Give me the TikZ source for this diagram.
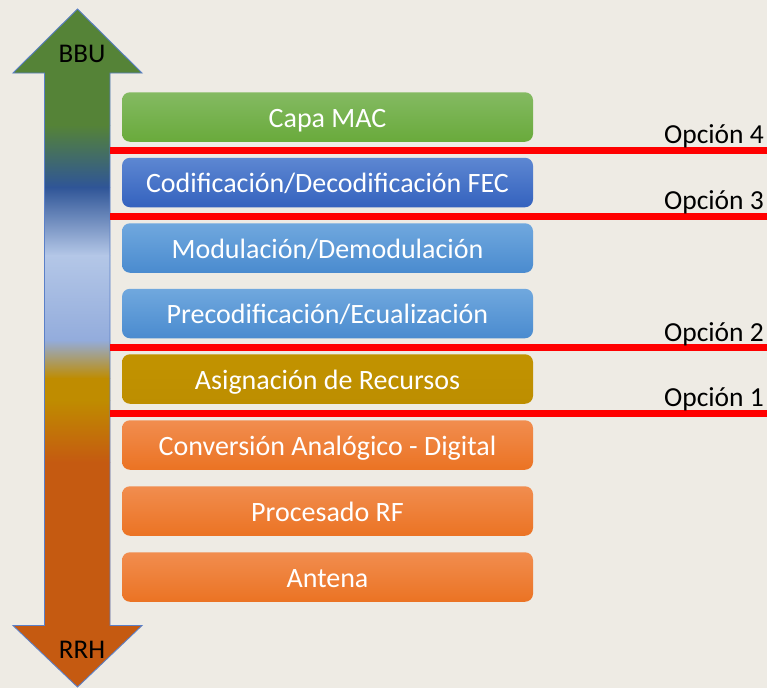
\documentclass[tikz,border=0pt]{standalone}
\usepackage{fontspec}
\setmainfont{Carlito}
\definecolor{bg}{HTML}{EEEBE4}
\definecolor{agreen}{HTML}{558337}
\definecolor{ablue}{HTML}{2F5597}
\definecolor{alight}{HTML}{B4C7E7}
\definecolor{alav}{HTML}{93ACDC}
\definecolor{agold}{HTML}{BF8C00}
\definecolor{aorange}{HTML}{C55A11}
\definecolor{edge}{HTML}{5B80C8}
\definecolor{greenT}{HTML}{84BA62}
\definecolor{greenB}{HTML}{69AA3B}
\definecolor{blueT}{HTML}{5D87D2}
\definecolor{blueB}{HTML}{3462BE}
\definecolor{skyT}{HTML}{70A8DE}
\definecolor{skyB}{HTML}{4A8BCF}
\definecolor{goldT}{HTML}{C29300}
\definecolor{goldB}{HTML}{BD8E00}
\definecolor{orT}{HTML}{F18D4F}
\definecolor{orB}{HTML}{EB7323}
\begin{document}
\begin{tikzpicture}[x=1pt,y=-1pt,
  layer/.style={rounded corners=8pt, minimum width=411pt, minimum height=49.5pt,
    inner sep=0pt, text height=20pt, text depth=0pt, text=white,
    font=\fontsize{28}{34}\selectfont},
  cut/.style={draw=red, line width=6.5pt},
  optlabel/.style={anchor=base east, inner sep=0pt, font=\fontsize{27.5}{33}\selectfont},
  endlabel/.style={anchor=base, inner sep=0pt, font=\fontsize{27}{32}\selectfont},
  arrowline/.style={draw=edge, line width=0.9pt, line join=miter}]
\useasboundingbox[fill=bg] (0,0) rectangle (767,688);

% double-headed arrow with a vertical colour ramp
\def\arrowpath{(77.5,9) -- (142,73) -- (110,73) -- (110,625.5) -- (142,625.5)
  -- (77.5,687) -- (13,625.5) -- (44.5,625.5) -- (44.5,73) -- (13,73) -- cycle}
\begin{scope}
  \clip \arrowpath;
  \fill[agreen] (0,0) rectangle (160,125.5);
  \shade[top color=agreen, bottom color=ablue] (0,125) rectangle (160,187.5);
  \shade[top color=ablue, bottom color=alight] (0,187) rectangle (160,255.5);
  \shade[top color=alight, bottom color=alav] (0,255) rectangle (160,340.5);
  \shade[top color=alav, bottom color=agold] (0,340) rectangle (160,378.5);
  \fill[agold] (0,378) rectangle (160,400.5);
  \shade[top color=agold, bottom color=aorange] (0,400) rectangle (160,462.5);
  \fill[aorange] (0,462) rectangle (160,700);
\end{scope}
\draw[arrowline] \arrowpath;
\node[endlabel] (bbu) at (82,62) {BBU};
\node[endlabel] (rrh) at (82,658) {RRH};

% protocol layers
\node[layer, top color=greenT, bottom color=greenB] (mac) at (327.5,117) {Capa MAC};
\node[layer, top color=blueT, bottom color=blueB] (fec) at (327.5,182.5) {Codificación/Decodificación FEC};
\node[layer, top color=skyT, bottom color=skyB] (mod) at (327.5,248) {Modulación/Demodulación};
\node[layer, top color=skyT, bottom color=skyB] (pre) at (327.5,313.5) {Precodificación/Ecualización};
\node[layer, top color=goldT, bottom color=goldB] (asig) at (327.5,379) {Asignación de Recursos};
\node[layer, top color=orT, bottom color=orB] (adc) at (327.5,445) {Conversión Analógico - Digital};
\node[layer, top color=orT, bottom color=orB] (rf) at (327.5,511) {Procesado RF};
\node[layer, top color=orT, bottom color=orB] (ant) at (327.5,577) {Antena};

% functional split options
\coordinate (s4a) at (110,150.5); \coordinate (s4b) at (767,150.5);
\coordinate (s3a) at (110,216.5); \coordinate (s3b) at (767,216.5);
\coordinate (s2a) at (110,347.5); \coordinate (s2b) at (767,347.5);
\coordinate (s1a) at (110,413.5); \coordinate (s1b) at (767,413.5);
\draw[cut] (s4a) -- (s4b);
\draw[cut] (s3a) -- (s3b);
\draw[cut] (s2a) -- (s2b);
\draw[cut] (s1a) -- (s1b);
\node[optlabel] (o4) at (764,143) {Opción 4};
\node[optlabel] (o3) at (764,209.5) {Opción 3};
\node[optlabel] (o2) at (764,341) {Opción 2};
\node[optlabel] (o1) at (764,406) {Opción 1};
\end{tikzpicture}
\end{document}
